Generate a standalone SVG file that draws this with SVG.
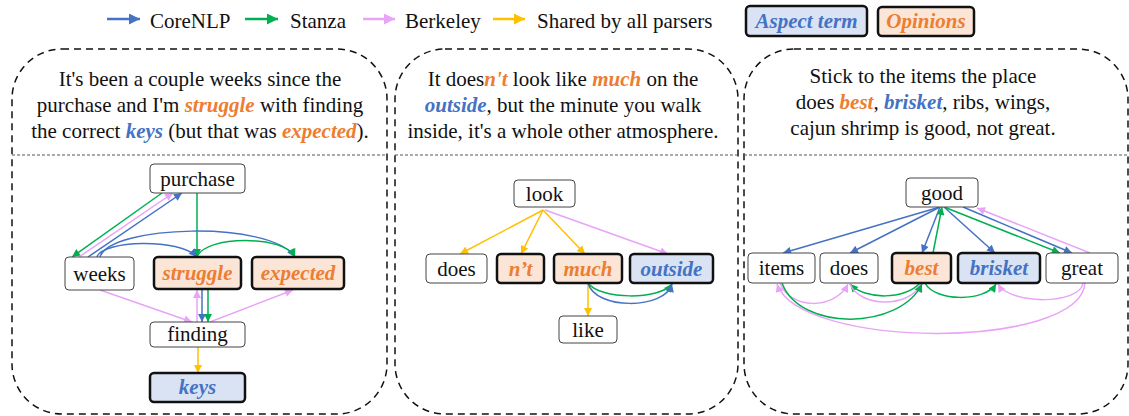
<svg xmlns="http://www.w3.org/2000/svg" width="1129" height="416" viewBox="0 0 1129 416">
<style>
text{font-family:"Liberation Serif","Times New Roman",serif;font-size:21px;fill:#111}
.c{text-anchor:middle}
.o{fill:#ED7D31;font-weight:bold;font-style:italic}
.a{fill:#4472C4;font-weight:bold;font-style:italic}
.panel{fill:none;stroke:#111;stroke-width:1.5;stroke-dasharray:7 5}
.sep{stroke:#555;stroke-width:1;stroke-dasharray:3 2}
.n{fill:#fff;stroke:#444;stroke-width:1}
.no{fill:#FBE5D6;stroke:#111;stroke-width:2.5}
.na{fill:#DAE3F3;stroke:#111;stroke-width:2.5}
.e{fill:none;stroke-width:1.5}
.bl{stroke:#4472C4;marker-end:url(#mb)}
.gr{stroke:#00B050;marker-end:url(#mg)}
.pk{stroke:#E9A3F7;marker-end:url(#mp)}
.yl{stroke:#FFC000;marker-end:url(#my)}
.lg{fill:none;stroke-width:2.5}
</style>
<defs>
<marker id="mb" viewBox="0 0 10 10" refX="10" refY="5" markerUnits="userSpaceOnUse" markerWidth="9" markerHeight="8" orient="auto"><path d="M0,0L10,5L0,10z" fill="#4472C4"/></marker>
<marker id="mg" viewBox="0 0 10 10" refX="10" refY="5" markerUnits="userSpaceOnUse" markerWidth="9" markerHeight="8" orient="auto"><path d="M0,0L10,5L0,10z" fill="#00B050"/></marker>
<marker id="mp" viewBox="0 0 10 10" refX="10" refY="5" markerUnits="userSpaceOnUse" markerWidth="9" markerHeight="8" orient="auto"><path d="M0,0L10,5L0,10z" fill="#E9A3F7"/></marker>
<marker id="my" viewBox="0 0 10 10" refX="10" refY="5" markerUnits="userSpaceOnUse" markerWidth="9" markerHeight="8" orient="auto"><path d="M0,0L10,5L0,10z" fill="#FFC000"/></marker>
<marker id="lb" viewBox="0 0 10 10" refX="10" refY="5" markerUnits="userSpaceOnUse" markerWidth="12" markerHeight="11" orient="auto"><path d="M0,0L10,5L0,10z" fill="#4472C4"/></marker>
<marker id="lgm" viewBox="0 0 10 10" refX="10" refY="5" markerUnits="userSpaceOnUse" markerWidth="12" markerHeight="11" orient="auto"><path d="M0,0L10,5L0,10z" fill="#00B050"/></marker>
<marker id="lp" viewBox="0 0 10 10" refX="10" refY="5" markerUnits="userSpaceOnUse" markerWidth="12" markerHeight="11" orient="auto"><path d="M0,0L10,5L0,10z" fill="#E9A3F7"/></marker>
<marker id="ly" viewBox="0 0 10 10" refX="10" refY="5" markerUnits="userSpaceOnUse" markerWidth="12" markerHeight="11" orient="auto"><path d="M0,0L10,5L0,10z" fill="#FFC000"/></marker>
</defs>
<rect width="1129" height="416" fill="#fff"/>

<g id="legend">
<line class="lg" x1="107" y1="19" x2="140" y2="19" stroke="#4472C4" marker-end="url(#lb)"/>
<text x="150" y="27.5">CoreNLP</text>
<line class="lg" x1="245" y1="19" x2="278" y2="19" stroke="#00B050" marker-end="url(#lgm)"/>
<text x="290" y="27.5">Stanza</text>
<line class="lg" x1="363" y1="19" x2="395" y2="19" stroke="#E9A3F7" marker-end="url(#lp)"/>
<text x="405" y="27.5">Berkeley</text>
<line class="lg" x1="493" y1="19" x2="525" y2="19" stroke="#FFC000" marker-end="url(#ly)"/>
<text x="537" y="27.5">Shared by all parsers</text>
<rect class="na" x="746" y="6" width="121" height="30" rx="4"/>
<text class="c a" x="806.5" y="28">Aspect term</text>
<rect class="no" x="878" y="7" width="96" height="29" rx="4"/>
<text class="c o" x="926" y="28">Opinions</text>
</g>

<g id="panels">
<rect class="panel" x="12" y="49" width="375" height="365" rx="50"/>
<line class="sep" x1="12" y1="155" x2="387" y2="155"/>
<rect class="panel" x="395" y="49" width="343" height="365" rx="50"/>
<line class="sep" x1="395" y1="155" x2="738" y2="155"/>
<rect class="panel" x="744" y="49" width="384" height="365" rx="50"/>
<line class="sep" x1="744" y1="155" x2="1128" y2="155"/>
</g>

<g id="sentences">
<text class="c" x="200" y="86">It's been a couple weeks since the</text>
<text class="c" x="200" y="112">purchase and I'm <tspan class="o">struggle</tspan> with finding</text>
<text class="c" x="200" y="138">the correct <tspan class="a">keys</tspan> (but that was <tspan class="o">expected</tspan>).</text>
<text class="c" x="563" y="86">It does<tspan class="o">n't</tspan> look like <tspan class="o">much</tspan> on the</text>
<text class="c" x="563" y="112"><tspan class="a">outside</tspan>, but the minute you walk</text>
<text class="c" x="563" y="138">inside, it's a whole other atmosphere.</text>
<text class="c" x="923" y="83">Stick to the items the place</text>
<text class="c" x="923" y="109">does <tspan class="o">best</tspan>, <tspan class="a">brisket</tspan>, ribs, wings,</text>
<text class="c" x="923" y="135">cajun shrimp is good, not great.</text>
</g>

<g id="connectors">
<path class="e gr" d="M162,193L72,257"/>
<path class="e pk" d="M79,257L173,193"/>
<path class="e bl" d="M88,257L182,193"/>
<path class="e gr" d="M197,193L197,257"/>
<path class="e bl" d="M97,257C102,240 180,238 197,257"/>
<path class="e bl" d="M100,257C110,225 270,220 295,257"/>
<path class="e gr" d="M197,257C205,235 285,235 295,257"/>
<path class="e pk" d="M100,290L192,322"/>
<path class="e pk" d="M197,322L197,290"/>
<path class="e bl" d="M202,290L202,322"/>
<path class="e gr" d="M208,290L208,322"/>
<path class="e pk" d="M210,322L293,290"/>
<path class="e yl" d="M198,347L198,373"/>

<path class="e yl" d="M543,210L460,254"/>
<path class="e yl" d="M543,210L521,254"/>
<path class="e yl" d="M543,210L585,254"/>
<path class="e pk" d="M545,210L668,254"/>
<path class="e yl" d="M588,283L588,316"/>
<path class="e gr" d="M588,283C600,300 660,300 672,284"/>
<path class="e bl" d="M588,283C595,310 665,310 672,284"/>

<path class="e bl" d="M940,207L783,253"/>
<path class="e bl" d="M940,207L850,253"/>
<path class="e bl" d="M940,207L922,253"/>
<path class="e gr" d="M933,253L942,207"/>
<path class="e bl" d="M944,207L995,253"/>
<path class="e gr" d="M944,207L1060,253"/>
<path class="e bl" d="M963,207L1072,253"/>
<path class="e pk" d="M1090,253L977,208"/>
<path class="e pk" d="M780,283C790,310 835,310 848,284"/>
<path class="e gr" d="M920,283C905,300 865,300 850,284"/>
<path class="e pk" d="M850,284C860,308 910,308 921,284"/>
<path class="e gr" d="M782,283C800,332 900,330 922,284"/>
<path class="e gr" d="M925,283C935,302 985,302 996,284"/>
<path class="e pk" d="M1083,283C1080,305 1010,305 998,284"/>
<path class="e pk" d="M1085,283C1080,350 800,350 777,284"/>
</g>

<g id="n-purchase"><rect class="n" x="150" y="164" width="95" height="29" rx="4"/><text class="c" x="197.5" y="186">purchase</text></g>
<g id="n-weeks"><rect class="n" x="65" y="257" width="69" height="33" rx="4"/><text class="c" x="99.5" y="281">weeks</text></g>
<g id="n-struggle"><rect class="no" x="154" y="257" width="87" height="32" rx="4"/><text class="c o" x="197.5" y="280">struggle</text></g>
<g id="n-expected"><rect class="no" x="252" y="257" width="92" height="32" rx="4"/><text class="c o" x="298" y="280">expected</text></g>
<g id="n-finding"><rect class="n" x="150" y="322" width="95" height="25" rx="4"/><text class="c" x="197.5" y="341">finding</text></g>
<g id="n-keys"><rect class="na" x="150" y="373" width="95" height="29" rx="4"/><text class="c a" x="197.5" y="394">keys</text></g>

<g id="n-look"><rect class="n" x="514" y="180" width="61" height="27" rx="4"/><text class="c" x="544.5" y="201">look</text></g>
<g id="n-does1"><rect class="n" x="426" y="254" width="61" height="29" rx="4"/><text class="c" x="456.5" y="276">does</text></g>
<g id="n-nt"><rect class="no" x="497" y="254" width="47" height="29" rx="4"/><text class="c o" x="520.5" y="276">n’t</text></g>
<g id="n-much"><rect class="no" x="554" y="254" width="68" height="29" rx="4"/><text class="c o" x="588" y="276">much</text></g>
<g id="n-outside"><rect class="na" x="630" y="254" width="83" height="29" rx="4"/><text class="c a" x="671.5" y="276">outside</text></g>
<g id="n-like"><rect class="n" x="559" y="316" width="58" height="27" rx="4"/><text class="c" x="588" y="337">like</text></g>

<g id="n-good"><rect class="n" x="906" y="178" width="72" height="29" rx="4"/><text class="c" x="942" y="200">good</text></g>
<g id="n-items"><rect class="n" x="748" y="253" width="67" height="30" rx="4"/><text class="c" x="781.5" y="275">items</text></g>
<g id="n-does2"><rect class="n" x="820" y="253" width="58" height="30" rx="4"/><text class="c" x="849" y="275">does</text></g>
<g id="n-best"><rect class="no" x="892" y="253" width="59" height="30" rx="4"/><text class="c o" x="921.5" y="275">best</text></g>
<g id="n-brisket"><rect class="na" x="958" y="253" width="82" height="30" rx="4"/><text class="c a" x="999" y="275">brisket</text></g>
<g id="n-great"><rect class="n" x="1046" y="253" width="72" height="30" rx="4"/><text class="c" x="1082" y="275">great</text></g>
</svg>
